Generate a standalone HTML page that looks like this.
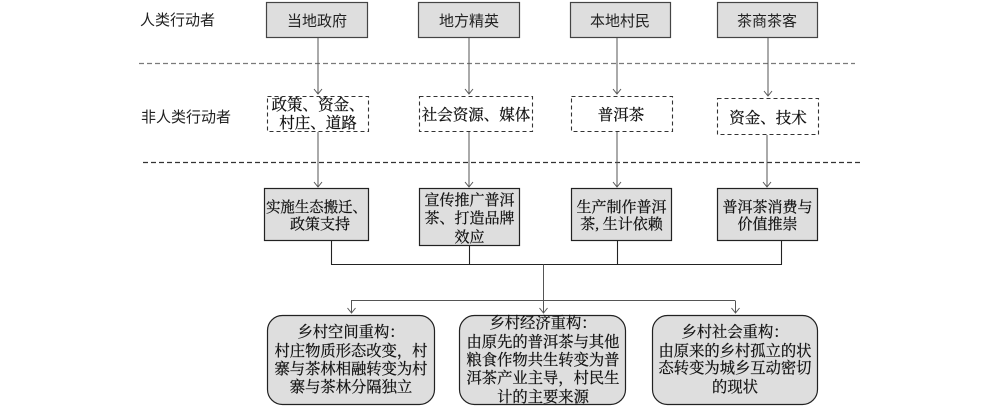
<!DOCTYPE html>
<html><head><meta charset="utf-8"><style>
html,body{margin:0;padding:0;background:#fff;}
svg{display:block;}
.sans{font-family:"Liberation Sans","Noto Sans CJK SC",sans-serif;}
.serif{font-family:"Liberation Serif","Noto Serif CJK SC",serif;}
</style></head><body>
<svg width="1000" height="407" viewBox="0 0 1000 407" xmlns="http://www.w3.org/2000/svg">
<!-- dashed separators -->
<line x1="139" y1="63.5" x2="855" y2="63.5" stroke="#7a7a7a" stroke-width="1.3" stroke-dasharray="5,3"/>
<line x1="143" y1="162.5" x2="860" y2="162.5" stroke="#333" stroke-width="1.2" stroke-dasharray="5,3"/>

<!-- left labels -->
<text class="sans" x="140" y="25" font-size="15" fill="#222">人类行动者</text>
<text class="sans" x="141" y="122" font-size="15" fill="#222">非人类行动者</text>

<!-- top boxes -->
<g stroke="#444" stroke-width="1.2" fill="#dedede">
<rect x="266.5" y="2.5" width="101" height="35"/>
<rect x="418.5" y="2.5" width="101" height="35"/>
<rect x="570.5" y="2.5" width="100" height="35"/>
<rect x="717.5" y="2.5" width="100" height="35"/>
</g>
<g class="sans" font-size="15" fill="#222" text-anchor="middle">
<text x="317" y="26">当地政府</text>
<text x="469" y="26">地方精英</text>
<text x="620" y="26">本地村民</text>
<text x="767" y="26">茶商茶客</text>
</g>

<!-- arrows top -> dashed boxes -->
<g stroke="#555" stroke-width="1" fill="none">
<line x1="318" y1="38" x2="318" y2="94"/>
<line x1="469" y1="38" x2="469" y2="94"/>
<line x1="617" y1="38" x2="617" y2="94"/>
<line x1="768" y1="38" x2="768" y2="96"/>
<polyline points="314,89 318,94 322,89"/>
<polyline points="465,89 469,94 473,89"/>
<polyline points="613,89 617,94 621,89"/>
<polyline points="764,91 768,96 772,91"/>
</g>

<!-- dashed boxes -->
<g stroke="#333" stroke-width="1.1" fill="#fff" stroke-dasharray="4,3">
<rect x="267.5" y="96.5" width="101" height="35"/>
<rect x="419.5" y="96.5" width="113" height="35"/>
<rect x="571.5" y="96.5" width="101" height="35"/>
<rect x="717.5" y="98.5" width="101" height="36"/>
</g>
<g class="serif" font-size="15.5" fill="#111" stroke="#111" stroke-width="0.25" text-anchor="middle">
<text x="318" y="110">政策、资金、</text>
<text x="318" y="128">村庄、道路</text>
<text x="476" y="120">社会资源、媒体</text>
<text x="621" y="120">普洱茶</text>
<text x="768" y="123">资金、技术</text>
</g>

<!-- arrows dashed -> row3 -->
<g stroke="#555" stroke-width="1" fill="none">
<line x1="318" y1="132" x2="318" y2="187"/>
<line x1="469" y1="132" x2="469" y2="187"/>
<line x1="617" y1="132" x2="617" y2="187"/>
<line x1="767" y1="135" x2="767" y2="187"/>
<polyline points="314,182 318,187 322,182"/>
<polyline points="465,182 469,187 473,182"/>
<polyline points="613,182 617,187 621,182"/>
<polyline points="763,182 767,187 771,182"/>
</g>

<!-- row 3 boxes -->
<g stroke="#222" stroke-width="1.2" fill="#dedede">
<rect x="264.5" y="188.5" width="104" height="52"/>
<rect x="419.5" y="188.5" width="100" height="57"/>
<rect x="571.5" y="188.5" width="100" height="52"/>
<rect x="717.5" y="188.5" width="100" height="52"/>
</g>
<g class="serif" font-size="15" fill="#111" stroke="#111" stroke-width="0.25" text-anchor="middle">
<text x="316.5" y="212" textLength="101" lengthAdjust="spacingAndGlyphs">实施生态搬迁、</text>
<text x="320" y="229">政策支持</text>
<text x="469.5" y="205">宣传推广普洱</text>
<text x="469.5" y="223">茶、打造品牌</text>
<text x="469.5" y="242">效应</text>
<text x="621.5" y="212">生产制作普洱</text>
<text x="621.5" y="229">茶, 生计依赖</text>
<text x="767.5" y="212">普洱茶消费与</text>
<text x="767.5" y="229">价值推崇</text>
</g>

<!-- merge connectors -->
<g stroke="#222" stroke-width="1.1" fill="none">
<line x1="331.5" y1="241" x2="331.5" y2="264.5"/>
<line x1="469.5" y1="246" x2="469.5" y2="264.5"/>
<line x1="617.5" y1="241" x2="617.5" y2="264.5"/>
<line x1="781.5" y1="241" x2="781.5" y2="264.5"/>
<line x1="331" y1="264.5" x2="782" y2="264.5"/>
</g>
<g stroke="#555" stroke-width="1" fill="none">
<line x1="543.5" y1="264.5" x2="543.5" y2="313"/>
<line x1="351" y1="300.5" x2="735" y2="300.5"/>
<line x1="351.5" y1="300.5" x2="351.5" y2="313"/>
<line x1="735.5" y1="300.5" x2="735.5" y2="313"/>
<polyline points="347.5,308 351.5,313 355.5,308"/>
<polyline points="539.5,308 543.5,313 547.5,308"/>
<polyline points="731.5,308 735.5,313 739.5,308"/>
</g>

<!-- bottom rounded boxes -->
<g stroke="#222" stroke-width="1.2" fill="#dedede">
<rect x="267.5" y="315.5" width="167" height="89" rx="15" ry="15"/>
<rect x="459.5" y="315.5" width="166" height="89" rx="15" ry="15"/>
<rect x="652.5" y="315.5" width="165" height="89" rx="15" ry="15"/>
</g>
<g class="serif" font-size="15.3" fill="#111" stroke="#111" stroke-width="0.25" text-anchor="middle">
<text x="351" y="337">乡村空间重构：</text>
<text x="351" y="356">村庄物质形态改变，村</text>
<text x="351" y="374">寨与茶林相融转变为村</text>
<text x="351" y="392">寨与茶林分隔独立</text>

<text x="543" y="328">乡村经济重构：</text>
<text x="543" y="347">由原先的普洱茶与其他</text>
<text x="543" y="365">粮食作物共生转变为普</text>
<text x="543" y="383">洱茶产业主导，村民生</text>
<text x="543" y="402">计的主要来源</text>

<text x="735" y="337">乡村社会重构：</text>
<text x="735" y="356">由原来的乡村孤立的状</text>
<text x="735" y="373">态转变为城乡互动密切</text>
<text x="735" y="392">的现状</text>
</g>
</svg>
</body></html>
